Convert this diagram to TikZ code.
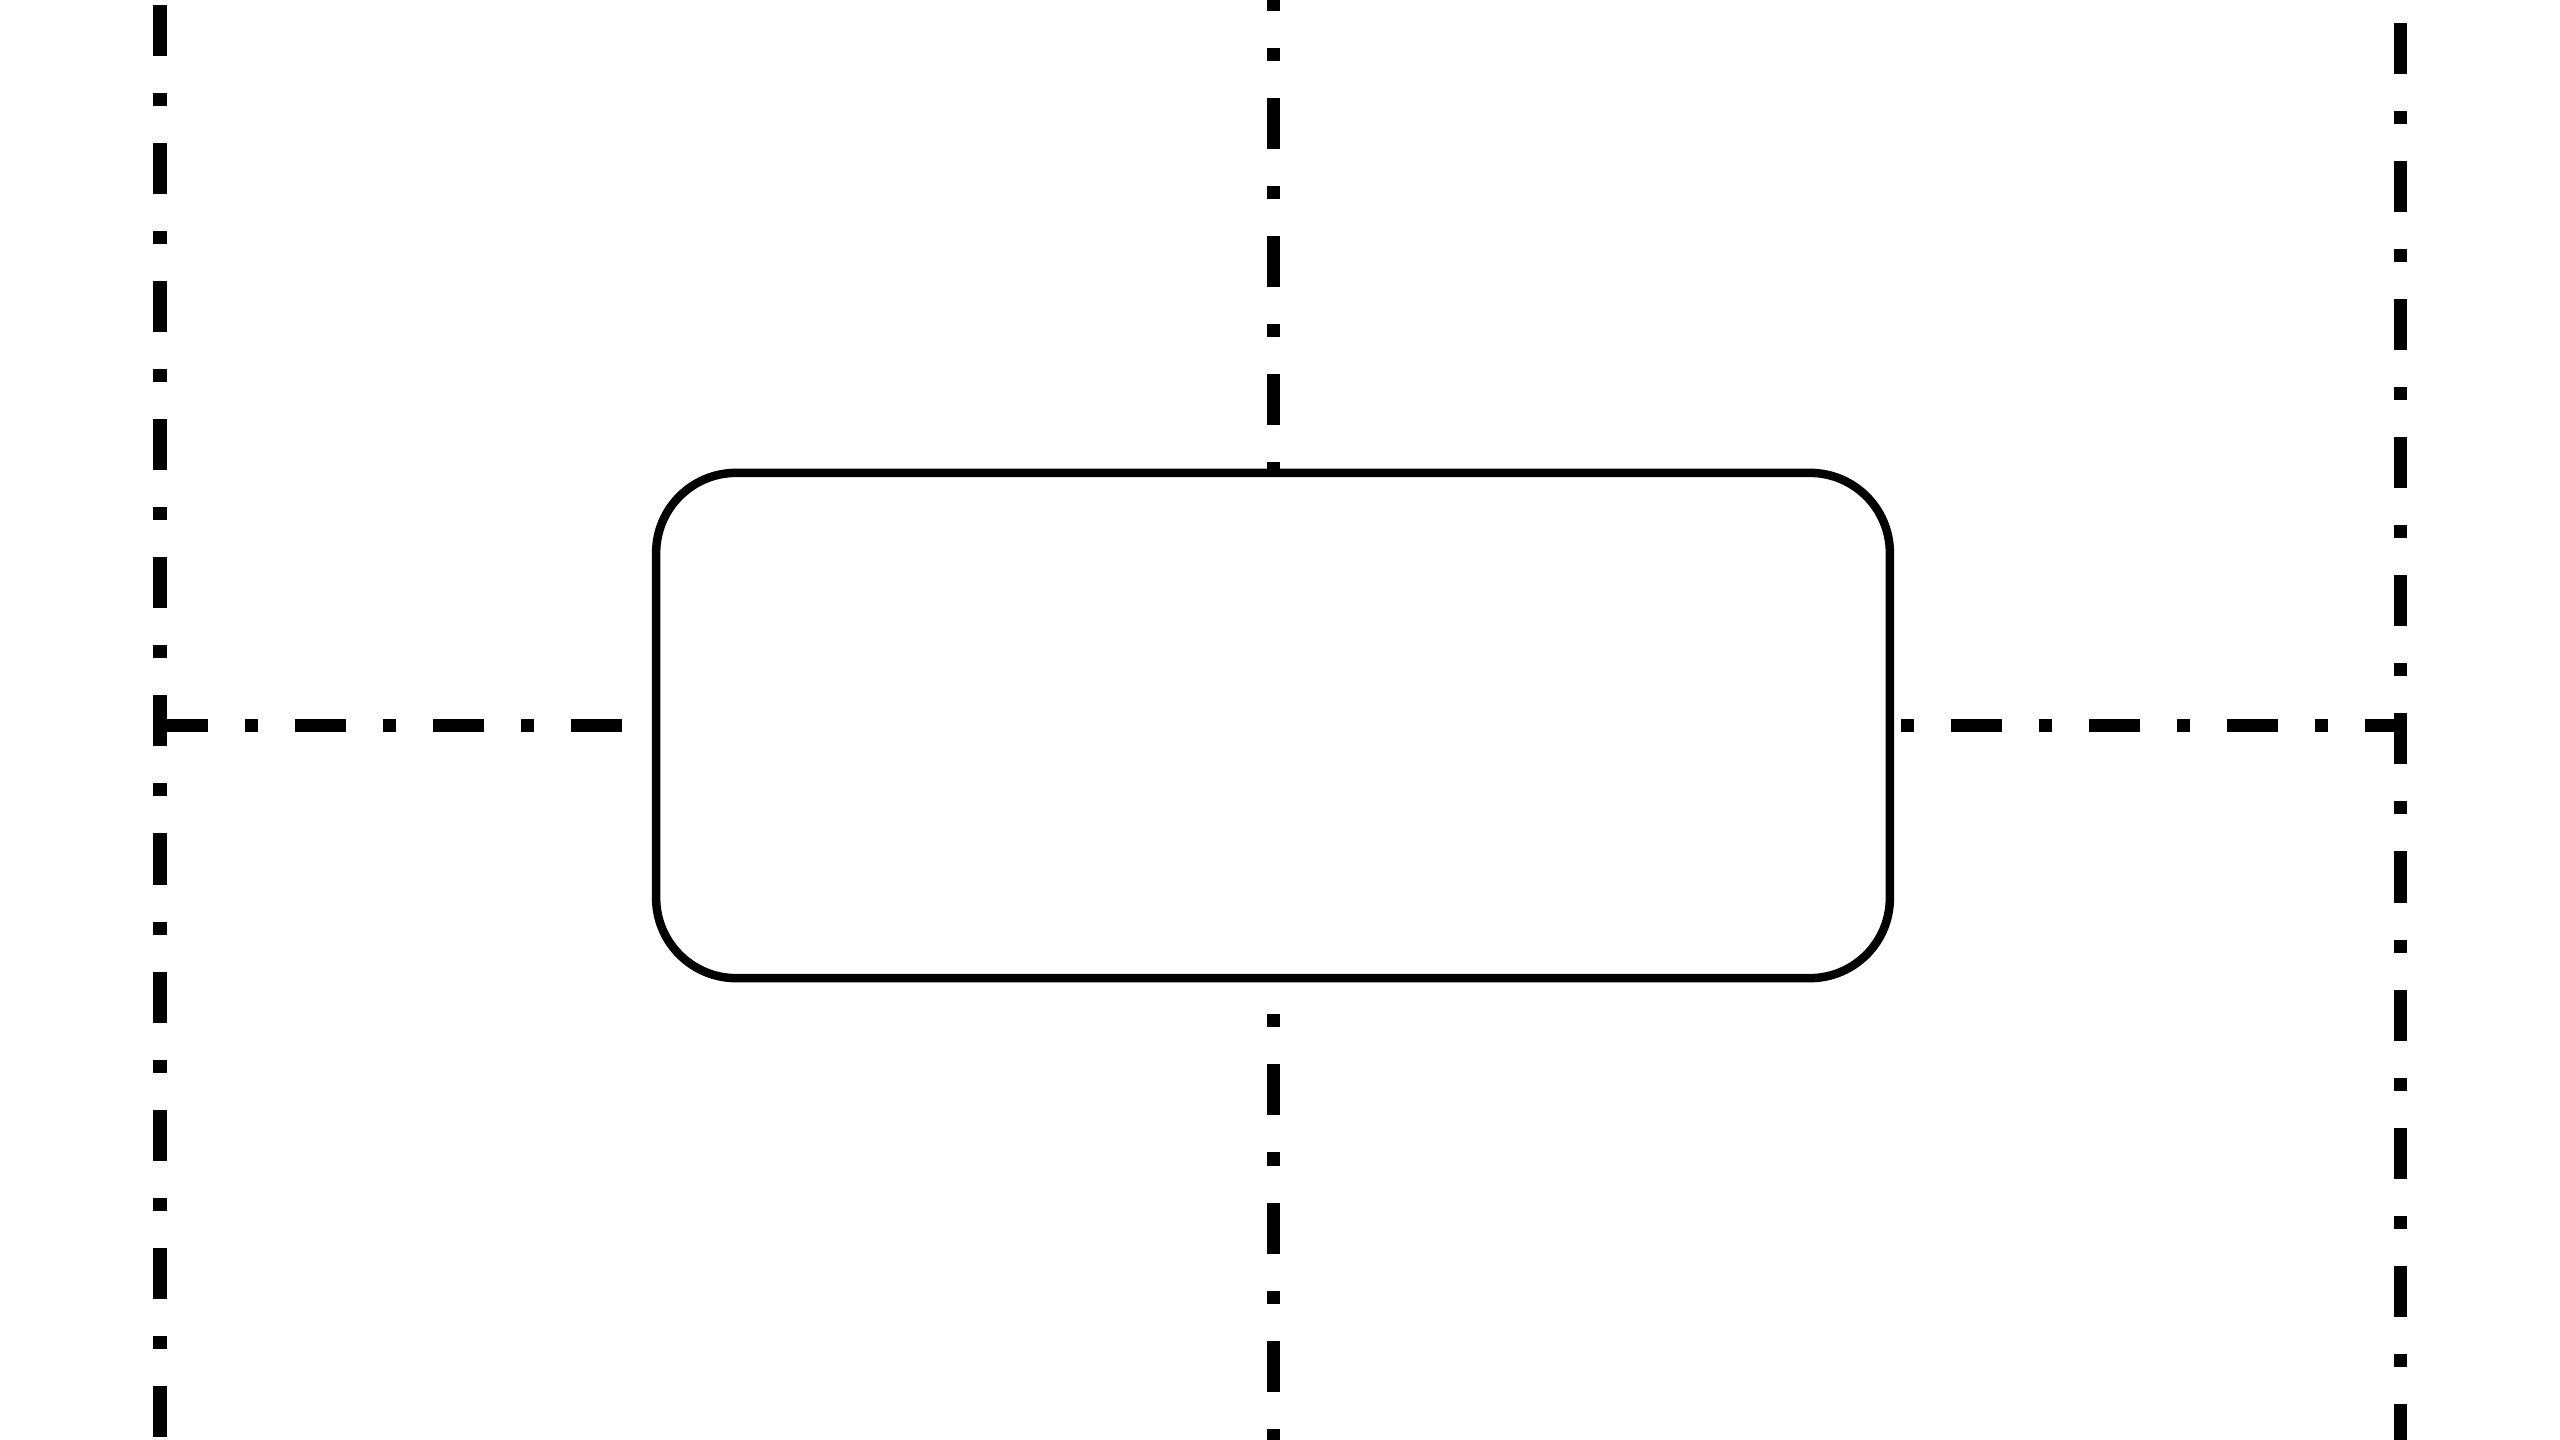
\documentclass[tikz,border=0pt]{standalone}
\usepackage{tikz}

\tikzset{
    centerline/.style={line width=0.13cm, dash pattern=on 0.51cm off 0.37cm on 0.13cm off 0.37cm},
    roundbox/.style={draw, line width=0.085cm, rounded corners=0.8cm,
                     minimum width=12.33cm, minimum height=5.05cm}
}

\begin{document}
\begin{tikzpicture}[x=0.01cm, y=-0.01cm]
        % page size of the reference
        \useasboundingbox (0,0) rectangle (2560,1440);

        % Box in the middle
        \node[roundbox] (box) at (1273,725.5) {};

        % End points of the centre lines
        \coordinate (leftTop) at (160,5);
        \coordinate (leftBottom) at (160,1440);
        \coordinate (rightTop) at (2400,23);
        \coordinate (rightBottom) at (2400,1440);
        \coordinate (midTop) at (1273,0);
        \coordinate (midBottom) at (1273,1440);

        % Vertical centre lines
        \draw[centerline] (leftTop) -- (leftBottom);
        \draw[centerline] (rightTop) -- (rightBottom);
        \draw[centerline, dash phase=0.4cm] (midTop) -- (box.north);
        \draw[centerline, dash phase=0.56cm] (box.south) -- (midBottom);

        % Horizontal centre line
        \draw[centerline, dash phase=0.03cm] (leftTop |- box.west) -- (box.west);
        \draw[centerline, dash phase=0.81cm] (box.east) -- (rightTop |- box.east);

\end{tikzpicture}
\end{document}
